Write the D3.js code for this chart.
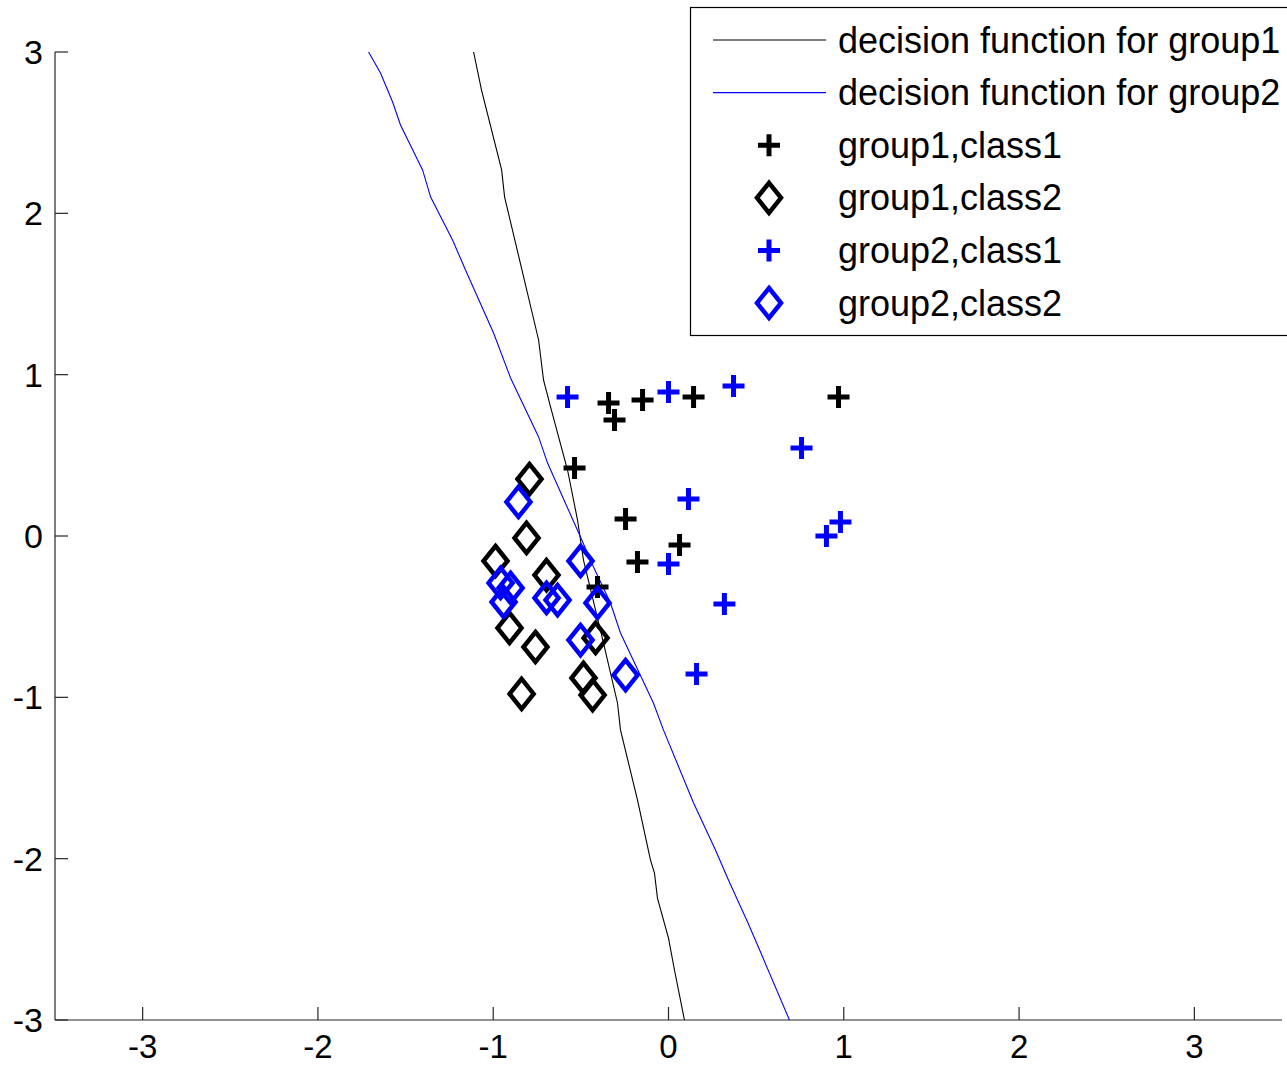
<!DOCTYPE html>
<html>
<head>
<meta charset="utf-8">
<script src="https://cdn.jsdelivr.net/npm/d3@7"></script>
<style>
  html, body { margin: 0; padding: 0; background: #fff; }
  svg { display: block; font-family: "Liberation Sans", Arial, Helvetica, sans-serif; }
</style>
</head>
<body>
<div id="chart"></div>
<script>
// decision boundaries (contour lines)
const decision1 = [
  [-1.112, 3.0], [-1.067, 2.765], [-0.952, 2.269], [-0.935, 2.101], [-0.741, 1.215],
  [-0.713, 0.967], [-0.673, 0.800], [-0.576, 0.409], [-0.519, 0.099], [-0.485, -0.149],
  [-0.371, -0.663], [-0.291, -1.035], [-0.274, -1.202], [-0.177, -1.636], [-0.103, -2.008],
  [-0.080, -2.089], [-0.063, -2.244], [0.000, -2.492], [0.034, -2.690], [0.091, -3.0]
];
const decision2 = [
  [-1.711, 3.0], [-1.643, 2.870], [-1.574, 2.690], [-1.529, 2.548], [-1.403, 2.269],
  [-1.357, 2.101], [-1.232, 1.835], [-1.158, 1.649], [-0.998, 1.258], [-0.901, 0.979],
  [-0.741, 0.614], [-0.690, 0.452], [-0.502, -0.006], [-0.428, -0.192], [-0.331, -0.415],
  [-0.274, -0.601], [-0.086, -1.035], [-0.029, -1.202], [0.143, -1.655], [0.268, -1.946],
  [0.342, -2.132], [0.451, -2.393], [0.525, -2.579], [0.690, -3.0]
];

const group1Class1 = [
  [-0.342, 0.824], [-0.308, 0.719], [-0.148, 0.843], [0.143, 0.862], [0.970, 0.862],
  [-0.536, 0.421], [-0.245, 0.105], [-0.177, -0.161], [0.063, -0.056], [-0.405, -0.316]
];
const group1Class2 = [
  [-0.793, 0.353], [-0.810, -0.012], [-0.987, -0.155], [-0.696, -0.242], [-0.907, -0.570],
  [-0.759, -0.688], [-0.416, -0.632], [-0.838, -0.979], [-0.485, -0.880], [-0.433, -0.986]
];
const group2Class1 = [
  [-0.576, 0.862], [0.000, 0.893], [0.371, 0.930], [0.759, 0.545], [0.114, 0.229],
  [0.981, 0.087], [0.901, 0.000], [0.000, -0.174], [0.319, -0.421], [0.160, -0.855]
];
const group2Class2 = [
  [-0.856, 0.211], [-0.502, -0.155], [-0.958, -0.291], [-0.901, -0.322], [-0.941, -0.409],
  [-0.696, -0.384], [-0.633, -0.397], [-0.405, -0.415], [-0.502, -0.645], [-0.245, -0.862]
];

const xTicks = [-3, -2, -1, 0, 1, 2, 3];
const yTicks = [-3, -2, -1, 0, 1, 2, 3];

const legendItems = [
  { label: "decision function for group1", kind: "line", color: "#000" },
  { label: "decision function for group2", kind: "line", color: "#0000ff" },
  { label: "group1,class1", kind: "plus", color: "#000" },
  { label: "group1,class2", kind: "diamond", color: "#000" },
  { label: "group2,class1", kind: "plus", color: "#0000ff" },
  { label: "group2,class2", kind: "diamond", color: "#0000ff" }
];

const width = 1287, height = 1066;
const margin = { top: 52, right: 5, bottom: 46, left: 55 };
const tickFont = 33;
const legendFont = 36;

const svg = d3.select("#chart").append("svg")
  .attr("width", width)
  .attr("height", height);

const x = d3.scaleLinear([-3.5, 3.5], [margin.left, width - margin.right]);
const y = d3.scaleLinear([-3, 3], [height - margin.bottom, margin.top]);

// ---- markers ----
const plusPath = "M-11,0H11M0,-11V11";
const diamondPath = "M0,-15L12,0L0,15L-12,0Z";

function drawLine(data, color) {
  svg.append("path")
    .datum(data)
    .attr("fill", "none")
    .attr("stroke", color)
    .attr("stroke-width", 1.1)
    .attr("d", d3.line().x(d => x(d[0])).y(d => y(d[1])));
}

function drawMarkers(data, shape, color) {
  svg.append("g").selectAll("path").data(data).join("path")
    .attr("transform", d => `translate(${x(d[0])},${y(d[1])})`)
    .attr("d", shape === "plus" ? plusPath : diamondPath)
    .attr("fill", "none")
    .attr("stroke", color)
    .attr("stroke-width", shape === "plus" ? 5 : 4.5)
    .attr("stroke-linejoin", "miter");
}

// ---- axes ----
const axisG = svg.append("g").attr("stroke", "#262626").attr("stroke-width", 1.2);
axisG.append("line")
  .attr("x1", x(-3.5)).attr("x2", x(-3.5))
  .attr("y1", y(3)).attr("y2", y(-3));
axisG.append("line")
  .attr("x1", x(-3.5)).attr("x2", x(3.5))
  .attr("y1", y(-3)).attr("y2", y(-3));

axisG.selectAll("line.xt").data(xTicks).join("line")
  .attr("class", "xt")
  .attr("x1", d => x(d)).attr("x2", d => x(d))
  .attr("y1", y(-3)).attr("y2", y(-3) - 13);
axisG.selectAll("line.yt").data(yTicks).join("line")
  .attr("class", "yt")
  .attr("x1", x(-3.5)).attr("x2", x(-3.5) + 13)
  .attr("y1", d => y(d)).attr("y2", d => y(d));

// x tick labels sit just above the bottom edge, as in the reference
svg.append("g").selectAll("text").data(xTicks).join("text")
  .attr("x", d => x(d))
  .attr("y", y(-3) + 38)
  .attr("text-anchor", "middle")
  .attr("font-size", tickFont)
  .text(d => d);

svg.append("g").selectAll("text").data(yTicks).join("text")
  .attr("x", x(-3.5) - 12)
  .attr("y", d => y(d))
  .attr("dy", "0.35em")
  .attr("text-anchor", "end")
  .attr("font-size", 34)
  .text(d => d);

drawLine(decision1, "#000");
drawLine(decision2, "#0000ff");
drawMarkers(group1Class1, "plus", "#000");
drawMarkers(group1Class2, "diamond", "#000");
drawMarkers(group2Class1, "plus", "#0000ff");
drawMarkers(group2Class2, "diamond", "#0000ff");

// ---- legend ----
const legend = svg.append("g").attr("transform", "translate(690,7)");
legend.append("rect")
  .attr("x", 0.5).attr("y", 0.5)
  .attr("width", 620).attr("height", 328)
  .attr("fill", "#fff")
  .attr("stroke", "#000")
  .attr("stroke-width", 1.2);

const rowY = d3.scalePoint(d3.range(legendItems.length), [33, 296]);
const row = legend.selectAll("g.row").data(legendItems).join("g")
  .attr("class", "row")
  .attr("transform", (d, i) => `translate(0,${rowY(i)})`);

row.filter(d => d.kind === "line").append("line")
  .attr("x1", 23).attr("x2", 136)
  .attr("stroke", d => d.color)
  .attr("stroke-width", 1.1);
row.filter(d => d.kind !== "line").append("path")
  .attr("transform", "translate(79,0)")
  .attr("d", d => d.kind === "plus" ? plusPath : diamondPath)
  .attr("fill", "none")
  .attr("stroke", d => d.color)
  .attr("stroke-width", d => d.kind === "plus" ? 5 : 4.5);
row.append("text")
  .attr("x", 148)
  .attr("dy", "0.35em")
  .attr("font-size", legendFont)
  .text(d => d.label);
</script>
</body>
</html>
